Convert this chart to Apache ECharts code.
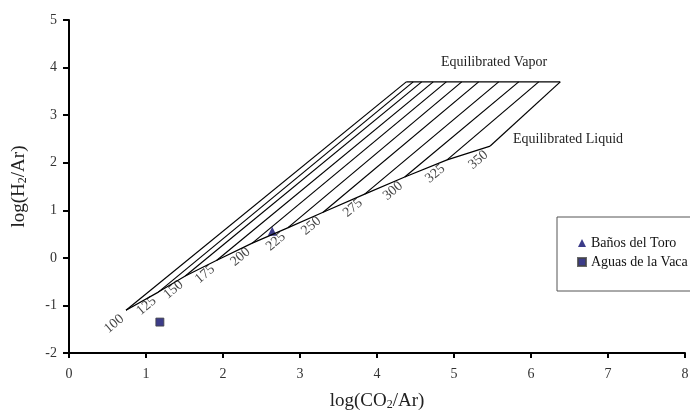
<!DOCTYPE html>
<html>
<head>
<meta charset="utf-8">
<style>
  html, body { margin: 0; padding: 0; background: #fff; }
  #chart { width: 690px; height: 411px; }
</style>
<script src="https://cdn.jsdelivr.net/npm/echarts@6/dist/echarts.min.js"></script>
</head>
<body>
<div id="chart"></div>
<script>
// 等温线温度 (°C)
const temps = [100, 125, 150, 175, 200, 225, 250, 275, 300, 325, 350]
// 平衡液相曲线上的点
const liquidX = [0.74, 1.16, 1.51, 1.92, 2.38, 2.84, 3.30, 3.84, 4.36, 4.91, 5.47]
const liquidY = [-1.10, -0.72, -0.38, -0.05, 0.31, 0.63, 0.96, 1.34, 1.70, 2.06, 2.35]
// 平衡气相线上的点
const vaporX = [4.38, 4.47, 4.58, 4.73, 4.90, 5.10, 5.32, 5.58, 5.84, 6.10, 6.38]
const vaporY = 3.70
// 样品点
const toroPoints = [[2.64, 0.56]]
const vacaPoints = [[1.18, -1.35]]

const FONT = 'Liberation Serif, Times New Roman, serif'
const MARK = '#0b0b6b'

const chart = echarts.init(document.getElementById('chart'))

const liquidCurve = liquidX.map((x, i) => [x, liquidY[i]])
const vaporLine = [[vaporX[0], vaporY], [vaporX[vaporX.length - 1], vaporY]]
const isotherms = temps.map((t, i) => ({
  coords: [[liquidX[i], liquidY[i]], [vaporX[i], vaporY]]
}))
const labelPoints = temps.map((t, i) => ({ value: [liquidX[i], liquidY[i]], name: String(t) }))

const nameRich = {
  a: { fontFamily: FONT, fontSize: 19, color: '#222', lineHeight: 22 },
  s: { fontFamily: FONT, fontSize: 12, color: '#222', lineHeight: 22, padding: [8, 0, 0, 0] }
}

const option = {
  backgroundColor: '#fff',
  animation: false,
  grid: { left: 69, right: 5, top: 20, bottom: 58, outerBoundsMode: 'none' },
  xAxis: {
    type: 'value',
    min: 0,
    max: 8,
    interval: 1,
    name: '{a|log(CO}{s|2}{a|/Ar)}',
    nameLocation: 'middle',
    nameGap: 37,
    nameTextStyle: { rich: nameRich },
    axisLine: { onZero: false, lineStyle: { color: '#000', width: 2 } },
    axisTick: { length: 5, lineStyle: { color: '#000', width: 2 } },
    axisLabel: { fontFamily: FONT, fontSize: 14, color: '#333', margin: 14 },
    splitLine: { show: false }
  },
  yAxis: {
    type: 'value',
    min: -2,
    max: 5,
    interval: 1,
    name: '{a|log(H}{s|2}{a|/Ar)}',
    nameLocation: 'middle',
    nameGap: 39,
    nameRotate: 90,
    nameTextStyle: { rich: nameRich },
    axisLine: { onZero: false, lineStyle: { color: '#000', width: 2 } },
    axisTick: { length: 6, lineStyle: { color: '#000', width: 2 } },
    axisLabel: { fontFamily: FONT, fontSize: 14, color: '#333', margin: 12 },
    splitLine: { show: false }
  },
  legend: {
    data: [
      { name: 'Baños del Toro', icon: 'triangle' },
      { name: 'Aguas de la Vaca', icon: 'rect' }
    ],
    orient: 'vertical',
    left: 557,
    top: 217,
    padding: [19, 60, 22, 20],
    itemWidth: 8,
    itemHeight: 8,
    itemGap: 5,
    borderColor: '#555',
    borderWidth: 1,
    textStyle: { fontFamily: FONT, fontSize: 14, color: '#111' }
  },
  graphic: [
    {
      type: 'text', left: 441, top: 55,
      style: { text: 'Equilibrated Vapor', font: '14px ' + FONT, fill: '#222' }
    },
    {
      type: 'text', left: 513, top: 132,
      style: { text: 'Equilibrated Liquid', font: '14px ' + FONT, fill: '#222' }
    }
  ],
  series: [
    {
      type: 'lines',
      coordinateSystem: 'cartesian2d',
      silent: true,
      lineStyle: { color: '#000', width: 1.2, opacity: 1 },
      data: isotherms
    },
    {
      type: 'line',
      silent: true,
      symbol: 'none',
      lineStyle: { color: '#000', width: 1.2 },
      data: liquidCurve
    },
    {
      type: 'line',
      silent: true,
      symbol: 'none',
      lineStyle: { color: '#000', width: 1.2 },
      data: vaporLine
    },
    {
      type: 'scatter',
      silent: true,
      symbolSize: 0,
      label: {
        show: true,
        formatter: p => p.name,
        position: 'inside',
        rotate: 40,
        offset: [-18, 3],
        fontFamily: FONT,
        fontSize: 14,
        color: '#111'
      },
      data: labelPoints
    },
    {
      name: 'Baños del Toro',
      type: 'scatter',
      symbol: 'triangle',
      symbolSize: 9,
      itemStyle: { color: MARK },
      data: toroPoints
    },
    {
      name: 'Aguas de la Vaca',
      type: 'scatter',
      symbol: 'rect',
      symbolSize: 8,
      itemStyle: { color: MARK, borderColor: '#444', borderWidth: 1 },
      data: vacaPoints
    }
  ]
}

chart.setOption(option)
</script>
</body>
</html>
